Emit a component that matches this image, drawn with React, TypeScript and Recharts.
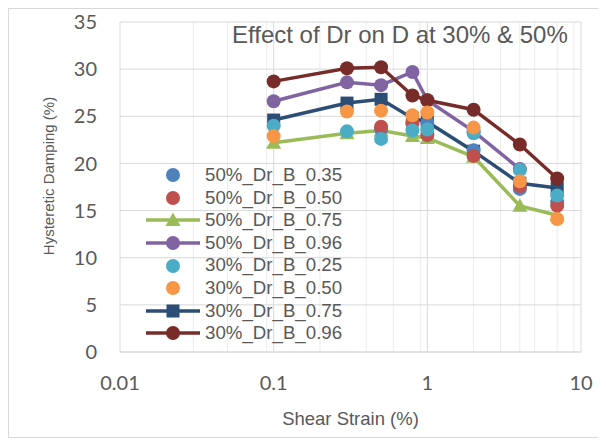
import { ScatterChart, Scatter, XAxis, YAxis, CartesianGrid, Legend } from "recharts";

// shear strain (%) columns
const strainAll = [0.1, 0.3, 0.5, 0.8, 1, 2, 4, 7];
const strainFrom05 = [0.5, 0.8, 1, 2, 4, 7];
const strainPurple = [0.1, 0.3, 0.5, 0.8, 1, 2, 4];

const xTicks = [0.01, 0.1, 1, 10];
const xMinorTicks = [
  0.02, 0.03, 0.04, 0.05, 0.06, 0.07, 0.08, 0.09,
  0.2, 0.3, 0.4, 0.5, 0.6, 0.7, 0.8, 0.9,
  2, 3, 4, 5, 6, 7, 8, 9,
];
const yTicks = [0, 5, 10, 15, 20, 25, 30, 35];

// hysteretic damping (%)
const d50B035 = [23.6, 24.2, 24.3, 21.4, 17.3, 15.9];
const d50B050 = [23.9, 24.4, 23.0, 20.8, 17.6, 15.5];
const d50B075 = [22.2, 23.2, 23.5, 22.9, 22.7, 20.7, 15.5, 14.5];
const d50B096 = [26.6, 28.6, 28.3, 29.7, 26.7, 23.4, 19.4];
const d30B025 = [24.0, 23.4, 22.6, 23.5, 23.6, 23.2, 19.3, 16.6];
const d30B050 = [22.9, 25.5, 25.6, 25.1, 25.4, 23.8, 18.1, 14.1];
const d30B075 = [24.6, 26.4, 26.8, 24.8, 24.4, 21.3, 17.9, 17.4];
const d30B096 = [28.7, 30.1, 30.2, 27.2, 26.7, 25.7, 22.0, 18.4];

type Kind = "circle" | "square" | "triangle";

const toPoints = (xs: number[], ys: number[]) => xs.map((x, i) => ({ x, y: ys[i] }));

const series = [
  { name: "50%_Dr_B_0.35", color: "#4F81BD", kind: "circle" as Kind, line: false, data: toPoints(strainFrom05, d50B035) },
  { name: "50%_Dr_B_0.50", color: "#C0504D", kind: "circle" as Kind, line: false, data: toPoints(strainFrom05, d50B050) },
  { name: "50%_Dr_B_0.75", color: "#9BBB59", kind: "triangle" as Kind, line: true, data: toPoints(strainAll, d50B075) },
  { name: "50%_Dr_B_0.96", color: "#8064A2", kind: "circle" as Kind, line: true, data: toPoints(strainPurple, d50B096) },
  { name: "30%_Dr_B_0.25", color: "#4BACC6", kind: "circle" as Kind, line: false, data: toPoints(strainAll, d30B025) },
  { name: "30%_Dr_B_0.50", color: "#F79646", kind: "circle" as Kind, line: false, data: toPoints(strainAll, d30B050) },
  { name: "30%_Dr_B_0.75", color: "#2C4D75", kind: "square" as Kind, line: true, data: toPoints(strainAll, d30B075) },
  { name: "30%_Dr_B_0.96", color: "#772C2A", kind: "circle" as Kind, line: true, data: toPoints(strainAll, d30B096) },
];

// lines with markers go underneath the marker-only series
const drawOrder = [2, 3, 6, 7, 0, 1, 4, 5];

const textColor = "#595959";
const sans = "'Liberation Sans', Arial, sans-serif";

const Marker = ({ kind, cx, cy, color }: { kind: Kind; cx: number; cy: number; color: string }) => {
  if (kind === "square") {
    return <rect x={cx - 6.5} y={cy - 6.5} width={13} height={13} fill={color} />;
  }
  if (kind === "triangle") {
    return <polygon points={`${cx},${cy - 7.5} ${cx + 7.5},${cy + 6} ${cx - 7.5},${cy + 6}`} fill={color} />;
  }
  return <circle cx={cx} cy={cy} r={7} fill={color} />;
};

const LegendBox = () => (
  <div style={{ fontFamily: sans, fontSize: 18.7, color: textColor }}>
    {series.map((s) => (
      <div key={s.name} style={{ display: "flex", alignItems: "center", height: 22.6 }}>
        <svg width={64} height={22}>
          {s.line && <line x1={6} x2={60} y1={11} y2={11} stroke={s.color} strokeWidth={3.5} />}
          <Marker kind={s.kind} cx={33} cy={11} color={s.color} />
        </svg>
        <span style={{ marginLeft: 1, lineHeight: "22.6px", whiteSpace: "nowrap" }}>{s.name}</span>
      </div>
    ))}
  </div>
);

const App = () => {
  return (
    <div
      style={{
        width: 592,
        height: 430,
        border: "1px solid #d9d9d9",
        boxSizing: "border-box",
        position: "relative",
        background: "#fff",
      }}
    >
      <ScatterChart width={590} height={428} margin={{ top: 13, right: 18, left: 0, bottom: 0 }}>
        <CartesianGrid horizontal={false} verticalValues={xMinorTicks} stroke="#ececec" />
        <CartesianGrid stroke="#d9d9d9" />
        <XAxis
          type="number"
          dataKey="x"
          scale="log"
          domain={[0.01, 10]}
          ticks={xTicks}
          allowDataOverflow
          height={85}
          tickSize={0}
          tickMargin={24}
          tickLine={false}
          axisLine={{ stroke: "#d9d9d9" }}
          tick={{ fill: textColor, fontSize: 20, fontFamily: "Lato, sans-serif" }}
        />
        <YAxis
          type="number"
          dataKey="y"
          domain={[0, 35]}
          ticks={yTicks}
          width={111}
          tickSize={0}
          tickMargin={23}
          tickLine={false}
          axisLine={false}
          tick={{ fill: textColor, fontSize: 20, fontFamily: "Lato, sans-serif" }}
        />
        {drawOrder.map((i) => {
          const s = series[i];
          return (
            <Scatter
              key={s.name}
              name={s.name}
              data={s.data}
              fill={s.color}
              line={s.line ? { stroke: s.color, strokeWidth: 3.5 } : false}
              lineType="joint"
              shape={(p: any) => <Marker kind={s.kind} cx={p.cx} cy={p.cy} color={s.color} />}
              isAnimationActive={false}
            />
          );
        })}
        <Legend
          layout="vertical"
          align="center"
          verticalAlign="middle"
          content={() => <LegendBox />}
          wrapperStyle={{ left: 131, top: 155, width: 230 }}
        />
        <text x={223} y={34} fontSize={24} fontFamily={sans} fill={textColor}>
          Effect of Dr on D at 30% &amp; 50%
        </text>
        <text x={341.5} y={416} fontSize={18.5} fontFamily={sans} fill={textColor} textAnchor="middle">
          Shear Strain (%)
        </text>
        <text
          x={39}
          y={167}
          fontSize={15}
          fontFamily={sans}
          fill={textColor}
          textAnchor="middle"
          dominantBaseline="central"
          transform="rotate(-90, 39, 167)"
        >
          Hysteretic Damping (%)
        </text>
      </ScatterChart>
    </div>
  );
};

export default App;
